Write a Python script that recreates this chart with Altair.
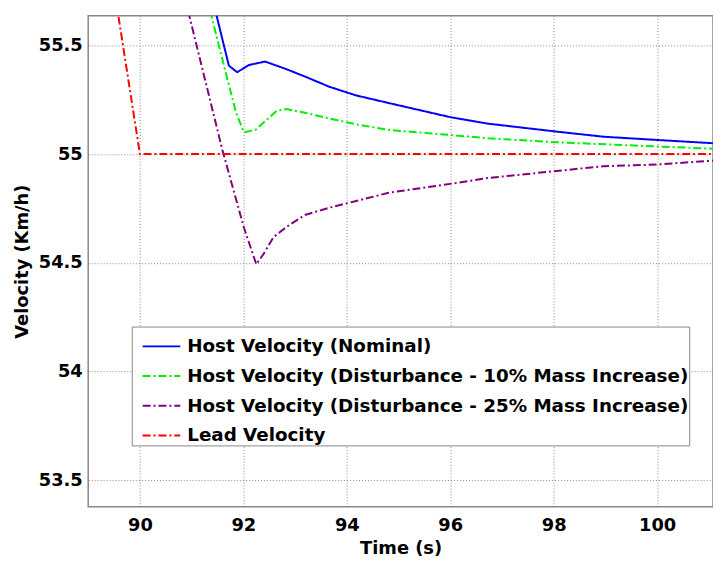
import altair as alt
import pandas as pd

# Series names
names = [
    "Host Velocity (Nominal)",
    "Host Velocity (Disturbance - 10% Mass Increase)",
    "Host Velocity (Disturbance - 25% Mass Increase)",
    "Lead Velocity",
]
colors = ["#0000FF", "#00EE00", "#800080", "#FF0000"]

# Nominal host velocity
nom_t = [91.3, 91.484, 91.72, 91.88, 92.11, 92.42, 92.84, 93.22, 93.66, 94.18, 94.81, 95.45, 96.0, 96.73, 98.0, 98.96, 100.0, 101.08]
nom_v = [55.81, 55.635, 55.407, 55.377, 55.41, 55.426, 55.39, 55.354, 55.31, 55.27, 55.235, 55.2, 55.17, 55.14, 55.105, 55.08, 55.065, 55.05]

# 10% mass increase
d10_t = [91.2, 91.383, 91.69, 91.86, 92.01, 92.23, 92.65, 92.84, 93.19, 93.66, 94.18, 94.81, 96.0, 96.73, 98.0, 100.0, 101.08]
d10_v = [55.8, 55.635, 55.346, 55.19, 55.1, 55.111, 55.2, 55.207, 55.19, 55.164, 55.137, 55.111, 55.088, 55.073, 55.055, 55.035, 55.025]

# 25% mass increase
d25_t = [90.8, 90.956, 91.593, 92.009, 92.25, 92.39, 92.58, 92.84, 93.19, 93.67, 94.18, 94.81, 96.0, 96.73, 98.0, 98.96, 100.0, 101.08]
d25_v = [55.8, 55.635, 55.02, 54.663, 54.493, 54.54, 54.617, 54.666, 54.72, 54.754, 54.784, 54.822, 54.863, 54.89, 54.921, 54.944, 54.952, 54.97]

# Lead velocity
lead_t = [89.4, 89.584, 90.0, 101.08]
lead_v = [55.92, 55.635, 55.0, 55.0]

x_ticks = [90, 92, 94, 96, 98, 100]
y_ticks = [53.5, 54, 54.5, 55, 55.5]

rows = []
for name, ts, vs in zip(names, [nom_t, d10_t, d25_t, lead_t], [nom_v, d10_v, d25_v, lead_v]):
    for i, (t, v) in enumerate(zip(ts, vs)):
        rows.append({"series": name, "t": t, "v": v, "i": i})
df = pd.DataFrame(rows)

font = "DejaVu Sans"
dash = [8, 3, 2, 3]
legend = alt.Legend(title=None, orient="none", legendX=44, legendY=314)

chart = alt.Chart(df).mark_line(strokeWidth=2, clip=True).encode(
    x=alt.X("t:Q", title="Time (s)",
            scale=alt.Scale(domain=[89, 101.08], nice=False, zero=False),
            axis=alt.Axis(values=x_ticks, format="d")),
    y=alt.Y("v:Q", title="Velocity (Km/h)",
            scale=alt.Scale(domain=[53.377, 55.637], nice=False, zero=False),
            axis=alt.Axis(values=y_ticks, format="~g")),
    color=alt.Color("series:N", scale=alt.Scale(domain=names, range=colors), legend=legend),
    strokeDash=alt.StrokeDash("series:N", scale=alt.Scale(domain=names, range=[[1, 0], dash, dash, dash]),
                              legend=legend),
    order="i:Q",
).properties(
    width=631, height=496,
    autosize=alt.AutoSizeParams(type="none"),
    padding={"left": 81, "top": 5, "right": 0, "bottom": 51},
).configure_view(
    stroke="#888888", strokeWidth=1.5
).configure_axis(
    labelFont=font, labelFontSize=18, labelFontWeight="bold", labelColor="black",
    titleFont=font, titleFontSize=18, titleFontWeight="bold", titleColor="black",
    grid=True, gridColor="#888888", gridDash=[1, 2], gridWidth=1,
    ticks=False, domain=False,
).configure_axisX(
    labelPadding=10, titlePadding=5
).configure_axisY(
    labelPadding=6, titlePadding=7
).configure_legend(
    labelFont=font, labelFontSize=18.5, labelFontWeight="bold", labelColor="black",
    labelLimit=0, symbolType="stroke", symbolSize=1444, symbolStrokeWidth=2,
    strokeColor="#888888", fillColor="white", padding=0, rowPadding=-10,
    symbolOffset=10, labelOffset=6, cornerRadius=0
)

chart.save("out.html", embed_options={"renderer": "svg", "actions": False})
